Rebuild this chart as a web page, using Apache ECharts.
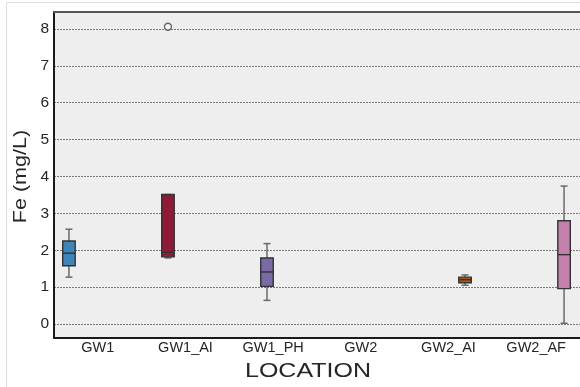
<!DOCTYPE html>
<html>
<head>
<meta charset="utf-8">
<style>
  html, body { margin: 0; padding: 0; background: #ffffff; }
  #chart { width: 580px; height: 387px; }
</style>
<script src="https://cdn.jsdelivr.net/npm/echarts@6/dist/echarts.min.js"></script>
</head>
<body>
<div id="chart"></div>
<script>
// Iron concentration by sampling location (box-and-whisker summary)
const locations   = ['GW1', 'GW1_AI', 'GW1_PH', 'GW2', 'GW2_AI', 'GW2_AF'];
const whiskerLow  = [1.27, 1.79, 0.64, null, 1.05, 0.02];
const quartile1   = [1.58, 1.82, 1.02, null, 1.12, 0.96];
const medians     = [1.92, 1.94, 1.41, null, 1.20, 1.88];
const quartile3   = [2.25, 3.51, 1.79, null, 1.27, 2.80];
const whiskerHigh = [2.57, 3.51, 2.18, null, 1.33, 3.74];
// outliers as [location index, Fe value]
const outliers    = [[1, 8.06]];
const yTicks      = [0, 1, 2, 3, 4, 5, 6, 7, 8];

const boxColors = ['#3f86b8', '#8e1a38', '#7b6aa6', '#888888', '#ad561c', '#c581ad'];
const BOX_W = 12.5;
const CAP_W = 7;

const boxData = [];
locations.forEach(function (name, i) {
  if (medians[i] == null) return;
  boxData.push({
    value: [i, whiskerLow[i], quartile1[i], medians[i], quartile3[i], whiskerHigh[i]],
    itemStyle: { color: boxColors[i] }
  });
});

function renderBox(params, api) {
  const x = api.value(0);
  const lo = api.coord([x, api.value(1)]);
  const q1 = api.coord([x, api.value(2)]);
  const md = api.coord([x, api.value(3)]);
  const q3 = api.coord([x, api.value(4)]);
  const hi = api.coord([x, api.value(5)]);
  const cx = lo[0];
  const whisker = { stroke: '#6a6a6a', lineWidth: 1.5 };
  const edge = '#333333';
  return {
    type: 'group',
    children: [
      { type: 'line', shape: { x1: cx, y1: hi[1], x2: cx, y2: q3[1] }, style: whisker },
      { type: 'line', shape: { x1: cx, y1: q1[1], x2: cx, y2: lo[1] }, style: whisker },
      { type: 'line', shape: { x1: cx - CAP_W / 2, y1: hi[1], x2: cx + CAP_W / 2, y2: hi[1] }, style: whisker },
      { type: 'line', shape: { x1: cx - CAP_W / 2, y1: lo[1], x2: cx + CAP_W / 2, y2: lo[1] }, style: whisker },
      {
        type: 'rect',
        shape: { x: cx - BOX_W / 2, y: q3[1], width: BOX_W, height: q1[1] - q3[1] },
        style: { fill: api.visual('color'), stroke: edge, lineWidth: 1.4 }
      },
      { type: 'line', shape: { x1: cx - BOX_W / 2, y1: md[1], x2: cx + BOX_W / 2, y2: md[1] }, style: { stroke: edge, lineWidth: 1.4 } }
    ]
  };
}

const chart = echarts.init(document.getElementById('chart'), null, { renderer: 'canvas' });

const textFont = '"Liberation Sans", Arial, sans-serif';
const textColor = '#262626';

chart.setOption({
  animation: false,
  backgroundColor: '#ffffff',
  grid: {
    left: 54, top: 12, width: 528, height: 326,
    show: true, backgroundColor: '#eeeeee', borderWidth: 0
  },
  xAxis: [
    {
      type: 'category',
      data: locations,
      boundaryGap: true,
      position: 'bottom',
      axisLine: { show: true, onZero: false, lineStyle: { color: '#1a1a1a', width: 2 } },
      axisTick: { show: false },
      axisLabel: { color: textColor, fontSize: 14.5, fontFamily: textFont, margin: 2 },
      splitLine: { show: false }
    },
    {
      type: 'value',
      position: 'top',
      min: -0.151,
      max: 5.161,
      axisLine: { show: true, onZero: false, lineStyle: { color: '#555555', width: 2 } },
      axisTick: { show: false },
      axisLabel: { show: false },
      splitLine: { show: false }
    }
  ],
  yAxis: {
    type: 'value',
    position: 'left',
    min: -0.38,
    max: 8.46,
    minInterval: 1,
    maxInterval: 1,
    splitNumber: 9,
    axisLine: { show: true, onZero: false, lineStyle: { color: '#1a1a1a', width: 2 } },
    axisTick: { show: false },
    axisLabel: {
      color: textColor, fontSize: 15.5, fontFamily: textFont, margin: 5,
      formatter: function (v) { return yTicks.indexOf(v) >= 0 ? String(v) : ''; }
    },
    splitLine: {
      show: true,
      lineStyle: { color: '#7a7a7a', width: 1, type: [2, 1] }
    }
  },
  graphic: [
    {
      type: 'rect', silent: true, z: -10,
      shape: { x: 6.5, y: 2.5, width: 640, height: 420 },
      style: { fill: 'none', stroke: '#dddddd', lineWidth: 1 }
    },
    {
      type: 'text', silent: true,
      x: 21.5, y: 176.5, rotation: Math.PI / 2, scaleX: 1.2,
      style: {
        text: 'Fe (mg/L)', fill: textColor, font: '18px ' + textFont,
        textAlign: 'center', textVerticalAlign: 'middle'
      }
    },
    {
      type: 'text', silent: true,
      x: 308, y: 371, scaleX: 1.22,
      style: {
        text: 'LOCATION', fill: textColor, font: '20.5px ' + textFont,
        textAlign: 'center', textVerticalAlign: 'middle'
      }
    }
  ],
  series: [
    {
      type: 'custom',
      xAxisIndex: 1,
      renderItem: renderBox,
      encode: { x: 0, y: [1, 2, 3, 4, 5] },
      data: boxData,
      z: 5
    },
    {
      type: 'scatter',
      xAxisIndex: 1,
      symbol: 'circle',
      symbolSize: 7,
      itemStyle: { color: '#f4f4f4', borderColor: '#444444', borderWidth: 1.3 },
      data: outliers,
      z: 6
    }
  ]
});
</script>
</body>
</html>
